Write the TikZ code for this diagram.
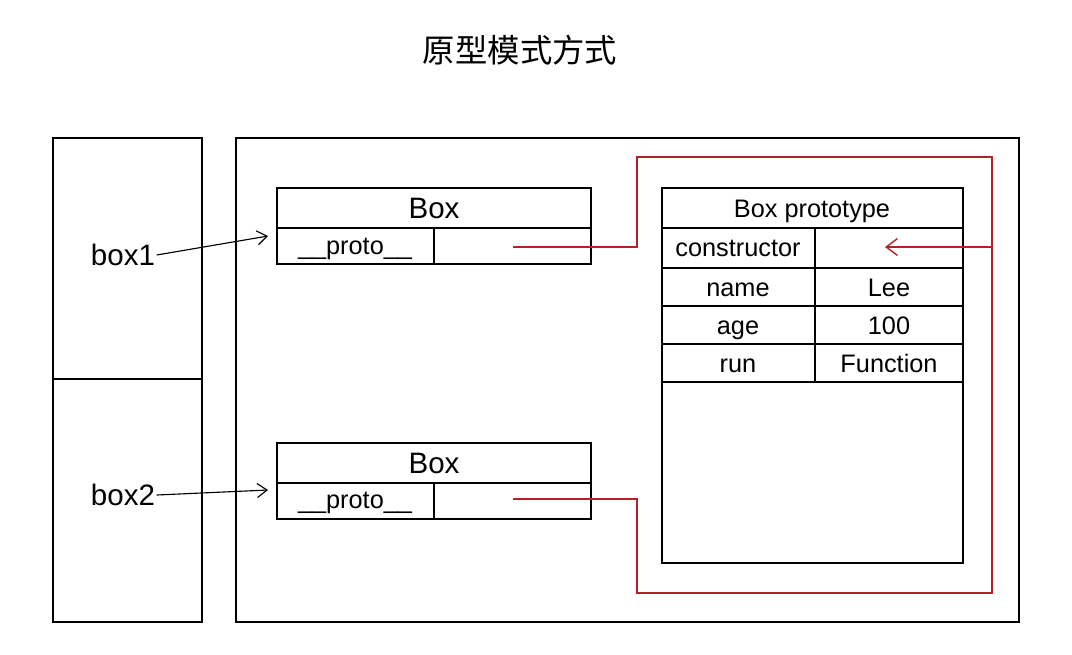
\documentclass[tikz,border=0pt]{standalone}
\usepackage{fontspec}
\setmainfont{Liberation Sans}
\newfontfamily\cjk{Noto Sans CJK SC}
\usepackage{tikz}
\usetikzlibrary{arrows.meta}
\usetikzlibrary{positioning}
\definecolor{linkred}{RGB}{178,34,40}

\begin{document}
\begin{tikzpicture}[x=0.025cm, y=-0.025cm,
	cell/.style={draw, line width=1pt},
	txt/.style={font=\fontsize{18}{20}\selectfont, inner sep=1pt, text height=13pt, text depth=0pt},
	big/.style={font=\fontsize{21}{24}\selectfont, inner sep=1pt, text height=15pt, text depth=0pt},
	link/.style={draw=linkred, line width=1pt},
	ptr/.style={-{Straight Barb[length=7pt,width=10pt]}, line width=0.8pt}]
	
	\useasboundingbox (0,0) rectangle (1072,654);
	\node [font=\cjk\fontsize{23}{26}\selectfont] (title) at (520,50) {原型模式方式};
	
	% stack
	\draw [cell] (53,138) rectangle (202,622);
	\draw [cell] (53,379) -- (202,379);
	\node [big] (b1) at (123,255) {box1};
	\node [big] (b2) at (123,495) {box2};
	
	% heap
	\draw [cell] (236,138) rectangle (1019,622);
	
	% first Box
	\draw [cell] (277,188) rectangle (591,264);
	\draw [cell] (277,228) -- (591,228) (434,228) -- (434,264);
	\node [big] (box1) at (434,208) {Box};
	\node [txt] (proto1) at (355,245) {\_\_proto\_\_};
	\coordinate (in1) at (268,236);
	\coordinate (pv1) at (513,247);
	
	% second Box
	\draw [cell] (277,443) rectangle (591,519);
	\draw [cell] (277,483) -- (591,483) (434,483) -- (434,519);
	\node [big] (box2) at (434,463) {Box};
	\node [txt] (proto2) at (355,499) {\_\_proto\_\_};
	\coordinate (in2) at (268,490);
	\coordinate (pv2) at (513,499);
	
	% Box prototype
	\draw [cell] (662,188) rectangle (963,563);
	\foreach \y in {228,268,306,344,382}
		\draw [cell] (662,\y) -- (963,\y);
	\draw [cell] (815,228) -- (815,382);
	\node [txt] (ptitle) at (812,208) {Box prototype};
	\foreach \k/\v/\y/\n in {constructor//247/ctor, name/Lee/287/name, age/100/325/age, run/Function/363/run}{
		\node [txt] (k\n) at (738,\y) {\k};
		\node [txt] (v\n) at (889,\y) {\v};
	}
	\coordinate (ctorv) at (885,247);
	\coordinate (turn) at (992,247);
	
	% references
	\draw [ptr] (b1.east) -- (in1);
	\draw [ptr] (b2.east) -- (in2);
	\draw [link] (pv1) -| (637,157) -| (992,593) -| (637,499) -- (pv2);
	\draw [link, -{Straight Barb[length=8pt,width=12pt]}] (turn) -- (ctorv);
\end{tikzpicture}
\end{document}
